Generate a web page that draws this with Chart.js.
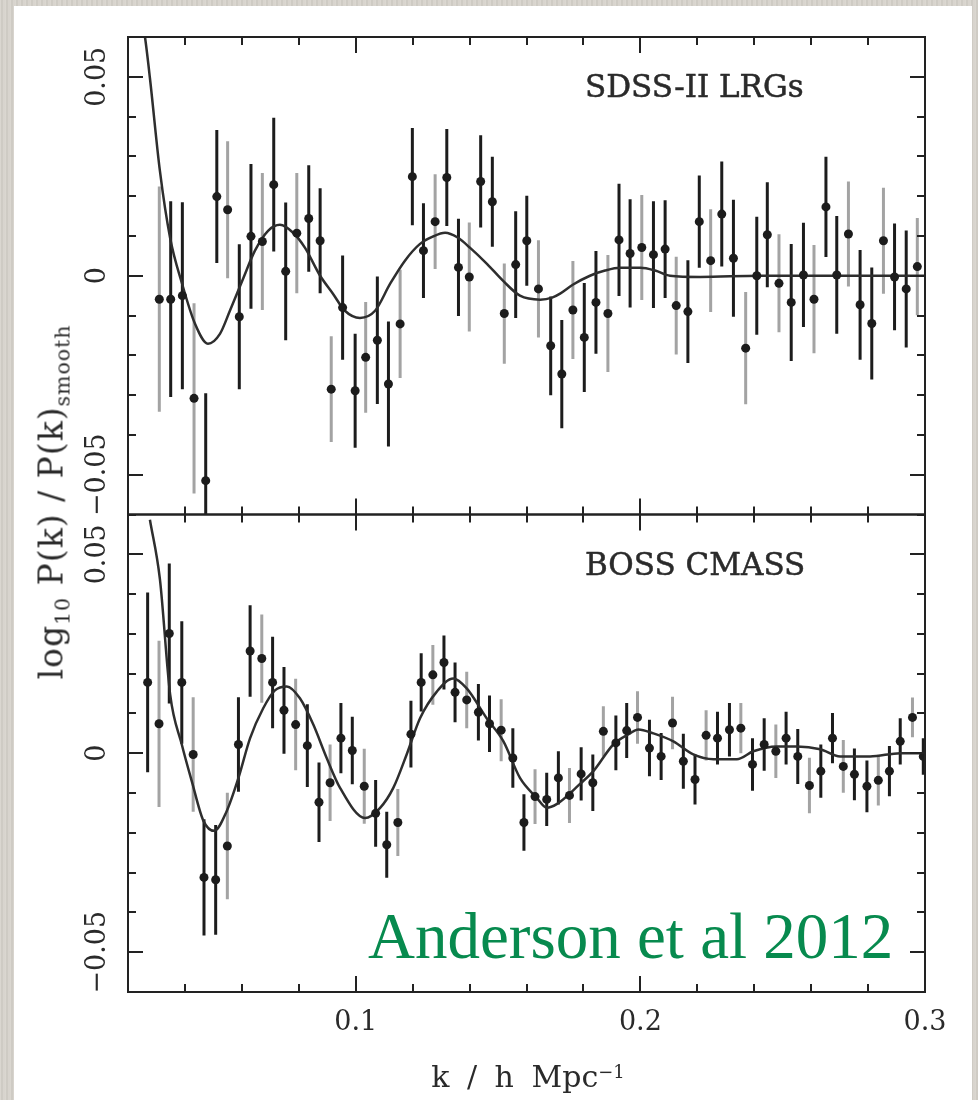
<!DOCTYPE html>
<html>
<head>
<meta charset="utf-8">
<title>BAO wiggles</title>
<script src="https://cdn.jsdelivr.net/npm/chart.js@4.4.1/dist/chart.umd.min.js"></script>
<style>
  html, body { margin: 0; padding: 0; }
  body {
    width: 978px; height: 1100px; position: relative; overflow: hidden;
    background: #d6d2cb;
    background-image: repeating-linear-gradient(90deg, rgba(255,255,255,0.10) 0 1px, rgba(0,0,0,0.035) 1px 3px, rgba(255,255,255,0.05) 3px 5px);
  }
  .sheet { position: absolute; left: 14px; top: 6px; width: 958px; height: 1094px; background: #fff; }
  #bao { position: absolute; left: 0; top: 0; filter: blur(0.5px); }
  .lbl {
    position: absolute; font-family: "DejaVu Serif", serif; color: #2a2a2a;
    white-space: nowrap; line-height: 1; filter: blur(0.5px);
  }
  .panel { font-size: 31px; -webkit-text-stroke: 0.5px #2a2a2a; }
  .ytitle { left: 51px; top: 502px; font-size: 33px; letter-spacing: 1px; transform: translate(-50%, -50%) rotate(-90deg); }
  .xtitle { left: 528px; top: 1062px; font-size: 30px; word-spacing: 8px; transform: translateX(-50%); }
  .sub { position: relative; top: 0.35em; font-size: 0.62em; }
  .sup { position: relative; top: -0.5em; font-size: 0.6em; }
  .credit {
    position: absolute; left: 368px; top: 904px; font-family: "Liberation Serif", serif;
    font-size: 65px; line-height: 1; color: #078a4e; white-space: nowrap;
  }
</style>
</head>
<body>
<div class="sheet"></div>
<canvas id="bao" width="978" height="1100"></canvas>

<div class="lbl panel" id="labelTop" style="left:585px; top:71px;"></div>
<div class="lbl panel" id="labelBot" style="left:585px; top:549px;"></div>
<div class="lbl ytitle">log<span class="sub">10</span> P(k) / P(k)<span class="sub">smooth</span></div>
<div class="lbl xtitle">k / h Mpc<span class="sup">−1</span></div>
<div class="credit">Anderson et al 2012</div>

<script>
// SDSS-II LRG band powers: k [h/Mpc], log10 P/Psmooth, 1-sigma error
const kTop = [0.0310, 0.0350, 0.0391, 0.0432, 0.0473, 0.0512, 0.0550, 0.0591, 0.0632, 0.0672,
  0.0712, 0.0754, 0.0793, 0.0835, 0.0875, 0.0914, 0.0954, 0.0998, 0.1035, 0.1076,
  0.1115, 0.1156, 0.1199, 0.1238, 0.1279, 0.1320, 0.1361, 0.1399, 0.1439, 0.1480,
  0.1522, 0.1562, 0.1601, 0.1642, 0.1685, 0.1724, 0.1763, 0.1803, 0.1844, 0.1886,
  0.1925, 0.1964, 0.2005, 0.2046, 0.2087, 0.2126, 0.2167, 0.2207, 0.2247, 0.2286,
  0.2327, 0.2370, 0.2409, 0.2446, 0.2487, 0.2530, 0.2573, 0.2610, 0.2652, 0.2690,
  0.2731, 0.2772, 0.2813, 0.2854, 0.2893, 0.2934, 0.2973];
const valTop = [-0.0059, -0.0059, -0.0050, -0.0308, -0.0515, 0.0199, 0.0166, -0.0103, 0.0099, 0.0086,
  0.0229, 0.0011, 0.0107, 0.0144, 0.0088, -0.0285, -0.0080, -0.0289, -0.0205, -0.0162,
  -0.0272, -0.0121, 0.0249, 0.0063, 0.0136, 0.0247, 0.0021, -0.0003, 0.0237, 0.0186,
  -0.0095, 0.0028, 0.0088, -0.0033, -0.0176, -0.0247, -0.0086, -0.0155, -0.0067, -0.0095,
  0.0090, 0.0056, 0.0071, 0.0053, 0.0067, -0.0075, -0.0090, 0.0136, 0.0038, 0.0155,
  0.0044, -0.0182, 0.0000, 0.0103, -0.0019, -0.0067, 0.0002, -0.0059, 0.0173, 0.0002,
  0.0105, -0.0073, -0.0120, 0.0088, -0.0003, -0.0033, 0.0023];
const errTop = [0.0283, 0.0246, 0.0235, 0.0239, 0.0220, 0.0167, 0.0172, 0.0182, 0.0182, 0.0172,
  0.0168, 0.0173, 0.0151, 0.0134, 0.0132, 0.0133, 0.0131, 0.0143, 0.0139, 0.0160,
  0.0157, 0.0136, 0.0122, 0.0119, 0.0119, 0.0122, 0.0122, 0.0137, 0.0116, 0.0113,
  0.0126, 0.0134, 0.0113, 0.0122, 0.0124, 0.0136, 0.0123, 0.0137, 0.0129, 0.0147,
  0.0141, 0.0136, 0.0132, 0.0134, 0.0123, 0.0123, 0.0129, 0.0116, 0.0129, 0.0132,
  0.0147, 0.0141, 0.0148, 0.0132, 0.0123, 0.0147, 0.0131, 0.0136, 0.0126, 0.0148,
  0.0132, 0.0138, 0.0141, 0.0133, 0.0134, 0.0147, 0.0122];

// BOSS CMASS band powers
const kBot = [0.0269, 0.0309, 0.0345, 0.0389, 0.0429, 0.0467, 0.0508, 0.0549, 0.0588, 0.0629,
  0.0670, 0.0708, 0.0748, 0.0789, 0.0830, 0.0871, 0.0910, 0.0948, 0.0988, 0.1030,
  0.1070, 0.1109, 0.1148, 0.1194, 0.1230, 0.1271, 0.1310, 0.1349, 0.1390, 0.1431,
  0.1470, 0.1511, 0.1552, 0.1591, 0.1630, 0.1671, 0.1712, 0.1751, 0.1792, 0.1833,
  0.1870, 0.1914, 0.1952, 0.1990, 0.2032, 0.2073, 0.2113, 0.2151, 0.2192, 0.2231,
  0.2271, 0.2313, 0.2353, 0.2394, 0.2435, 0.2476, 0.2512, 0.2553, 0.2594, 0.2634,
  0.2675, 0.2713, 0.2752, 0.2796, 0.2836, 0.2875, 0.2913, 0.2956, 0.2994];
const valBot = [0.0178, 0.0074, 0.0301, 0.0178, -0.0003, -0.0312, -0.0318, -0.0233, 0.0022, 0.0257,
  0.0238, 0.0178, 0.0108, 0.0072, 0.0019, -0.0123, -0.0074, 0.0038, 0.0007, -0.0083,
  -0.0151, -0.0230, -0.0174, 0.0048, 0.0178, 0.0197, 0.0228, 0.0153, 0.0134, 0.0103,
  0.0074, 0.0058, -0.0012, -0.0174, -0.0109, -0.0116, -0.0062, -0.0106, -0.0052, -0.0074,
  0.0055, 0.0026, 0.0057, 0.0090, 0.0013, -0.0008, 0.0076, -0.0020, -0.0066, 0.0045,
  0.0038, 0.0059, 0.0063, -0.0028, 0.0022, 0.0005, 0.0038, -0.0008, -0.0081, -0.0045,
  0.0038, -0.0033, -0.0053, -0.0083, -0.0068, -0.0045, 0.0030, 0.0090, -0.0008];
const errBot = [0.0226, 0.0209, 0.0176, 0.0154, 0.0144, 0.0146, 0.0138, 0.0134, 0.0119, 0.0115,
  0.0111, 0.0115, 0.0109, 0.0115, 0.0104, 0.0100, 0.0096, 0.0088, 0.0085, 0.0094,
  0.0084, 0.0083, 0.0084, 0.0084, 0.0073, 0.0075, 0.0068, 0.0075, 0.0071, 0.0071,
  0.0071, 0.0078, 0.0075, 0.0071, 0.0069, 0.0067, 0.0067, 0.0069, 0.0067, 0.0071,
  0.0063, 0.0069, 0.0069, 0.0066, 0.0071, 0.0059, 0.0066, 0.0069, 0.0063, 0.0063,
  0.0066, 0.0067, 0.0063, 0.0066, 0.0066, 0.0067, 0.0066, 0.0069, 0.0070, 0.0067,
  0.0063, 0.0066, 0.0065, 0.0065, 0.0063, 0.0063, 0.0058, 0.0050, 0.0046];

// best-fit BAO models
const kModelTop = [0.0240, 0.0260, 0.0277, 0.0312, 0.0348, 0.0390, 0.0435, 0.0481, 0.0523, 0.0558,
  0.0604, 0.0646, 0.0692, 0.0734, 0.0780, 0.0822, 0.0875, 0.0920, 0.0962, 0.1015,
  0.1068, 0.1121, 0.1173, 0.1226, 0.1270, 0.1314, 0.1358, 0.1402, 0.1461, 0.1518,
  0.1577, 0.1648, 0.1690, 0.1718, 0.1764, 0.1823, 0.1876, 0.1929, 0.2000, 0.2052,
  0.2104, 0.2210, 0.2421, 0.2631, 0.3000];
const modelTop = [0.0680, 0.0598, 0.0497, 0.0264, 0.0095, -0.0020, -0.0120, -0.0171, -0.0146, -0.0088,
  -0.0008, 0.0063, 0.0113, 0.0128, 0.0108, 0.0070, 0.0000, -0.0045, -0.0088, -0.0106,
  -0.0088, -0.0020, 0.0038, 0.0080, 0.0098, 0.0108, 0.0096, 0.0070, 0.0030, -0.0013,
  -0.0050, -0.0060, -0.0055, -0.0045, -0.0022, 0.0000, 0.0013, 0.0020, 0.0020, 0.0013,
  0.0000, -0.0003, 0.0000, 0.0000, 0.0000];
const kModelBot = [0.0277, 0.0312, 0.0348, 0.0389, 0.0424, 0.0465, 0.0503, 0.0547, 0.0588, 0.0629,
  0.0675, 0.0716, 0.0758, 0.0804, 0.0851, 0.0898, 0.0945, 0.1033, 0.1085, 0.1132,
  0.1179, 0.1226, 0.1285, 0.1343, 0.1390, 0.1460, 0.1519, 0.1577, 0.1636, 0.1671,
  0.1706, 0.1788, 0.1835, 0.1905, 0.1964, 0.1993, 0.2046, 0.2116, 0.2186, 0.2257,
  0.2339, 0.2397, 0.2479, 0.2550, 0.2632, 0.2702, 0.2807, 0.2913, 0.3000];
const modelBot = [0.0587, 0.0438, 0.0148, 0.0022, -0.0070, -0.0170, -0.0195, -0.0145, -0.0062, 0.0038,
  0.0113, 0.0158, 0.0168, 0.0138, 0.0072, -0.0012, -0.0087, -0.0163, -0.0138, -0.0087,
  -0.0003, 0.0088, 0.0155, 0.0188, 0.0163, 0.0088, 0.0030, -0.0062, -0.0112, -0.0137,
  -0.0128, -0.0077, -0.0045, 0.0022, 0.0050, 0.0060, 0.0050, 0.0030, -0.0003, -0.0015,
  -0.0015, 0.0005, 0.0017, 0.0017, 0.0010, -0.0008, -0.0008, 0.0000, 0.0000];

const panelNames = ["SDSS-II LRGs", "BOSS CMASS"];
const kRange = [0.02, 0.3];
const ratioRange = [-0.06, 0.06];

document.getElementById("labelTop").textContent = panelNames[0];
document.getElementById("labelBot").textContent = panelNames[1];

const INK = "#1c1c1c";
const GREY = "#a3a3a3";
const tickFont = { family: "DejaVu Serif", size: 27 };

const pts = (xs, ys) => xs.map((x, i) => ({ x: x, y: ys[i] }));
const onStep = (v, step) => Math.abs(v / step - Math.round(v / step)) < 1e-6;

// vertical error bars, clipped to their own panel; every third bar is grey
const errorBars = {
    id: "errorBars",
    beforeDatasetsDraw(chart) {
        const c = chart.ctx;
        const xs = chart.scales.x;
        chart.data.datasets.forEach((ds) => {
            if (!ds.errors) return;
            const ys = chart.scales[ds.yAxisID];
            c.save();
            c.beginPath();
            c.rect(xs.left, ys.top, xs.width, ys.bottom - ys.top);
            c.clip();
            c.lineWidth = 3;
            ds.data.forEach((p, i) => {
                const px = xs.getPixelForValue(p.x);
                c.strokeStyle = i % 3 === ds.greyPhase ? GREY : INK;
                c.beginPath();
                c.moveTo(px, ys.getPixelForValue(p.y - ds.errors[i]));
                c.lineTo(px, ys.getPixelForValue(p.y + ds.errors[i]));
                c.stroke();
            });
            c.restore();
        });
    },
};

// boxed panels with inward ticks on all four sides
const panelFrame = {
    id: "panelFrame",
    afterDraw(chart) {
        const c = chart.ctx;
        const xs = chart.scales.x;
        const L = xs.left, R = xs.right;
        c.save();
        c.strokeStyle = "#222";
        c.fillStyle = "#222";
        c.lineWidth = 2;
        ["yTop", "yBot"].forEach((id) => {
            const ys = chart.scales[id];
            c.strokeRect(L, ys.top, R - L, ys.bottom - ys.top);
            ys.ticks.forEach((t) => {
                const py = Math.round(ys.getPixelForValue(t.value));
                const len = onStep(t.value, 0.05) ? 15 : 8;
                c.fillRect(L, py - 1, len, 2);
                c.fillRect(R - len, py - 1, len, 2);
            });
            xs.ticks.forEach((t) => {
                const px = Math.round(xs.getPixelForValue(t.value));
                const len = onStep(t.value, 0.1) ? 16 : 8;
                c.fillRect(px - 1, ys.top, 2, len);
                c.fillRect(px - 1, ys.bottom - len, 2, len);
            });
        });
        c.restore();
    },
};

function ratioAxis(weight) {
    return {
        type: "linear",
        position: "left",
        stack: "panels",
        stackWeight: 1,
        weight: weight,
        min: ratioRange[0],
        max: ratioRange[1],
        grid: { display: false, drawTicks: false },
        border: { display: false },
        ticks: {
            stepSize: 0.01,
            autoSkip: false,
            minRotation: 90,
            maxRotation: 90,
            crossAlign: "center",
            padding: -11,
            color: "#2a2a2a",
            font: tickFont,
            callback: (v) => {
                if (!onStep(v, 0.05)) return "";
                if (Math.round(v * 20) === 0) return "0";
                return (v < 0 ? "\u2212" : "") + Math.abs(v).toFixed(2);
            },
        },
        afterFit: (s) => { s.width = 62; },
    };
}

function bandPowers(xs, ys, errs, axis, phase) {
    return {
        type: "scatter",
        data: pts(xs, ys),
        errors: errs,
        greyPhase: phase,
        yAxisID: axis,
        order: 1,
        pointRadius: 4.5,
        pointBorderWidth: 0,
        pointBackgroundColor: INK,
    };
}

function model(xs, ys, axis) {
    return {
        type: "line",
        data: pts(xs, ys),
        yAxisID: axis,
        order: 2,
        borderColor: "#2e2e2e",
        borderWidth: 2.5,
        pointRadius: 0,
        cubicInterpolationMode: "monotone",
        fill: false,
    };
}

new Chart(document.getElementById("bao"), {
    data: {
        datasets: [
            model(kModelTop, modelTop, "yTop"),
            model(kModelBot, modelBot, "yBot"),
            bandPowers(kTop, valTop, errTop, "yTop", 0),
            bandPowers(kBot, valBot, errBot, "yBot", 1),
        ],
    },
    options: {
        responsive: false,
        animation: false,
        devicePixelRatio: 1,
        layout: { padding: { top: 37, right: 53, bottom: 0, left: 66 } },
        plugins: { legend: { display: false }, tooltip: { enabled: false } },
        scales: {
            x: {
                type: "linear",
                position: "bottom",
                min: kRange[0],
                max: kRange[1],
                grid: { display: false, drawTicks: false },
                border: { display: false },
                ticks: {
                    stepSize: 0.02,
                    autoSkip: false,
                    maxRotation: 0,
                    padding: 15,
                    color: "#2a2a2a",
                    font: tickFont,
                    callback: (v) => (onStep(v, 0.1) ? v.toFixed(1) : ""),
                },
                afterFit: (s) => { s.height = 108; },
            },
            yTop: ratioAxis(1),
            yBot: ratioAxis(0),
        },
    },
    plugins: [errorBars, panelFrame],
});
</script>
</body>
</html>
